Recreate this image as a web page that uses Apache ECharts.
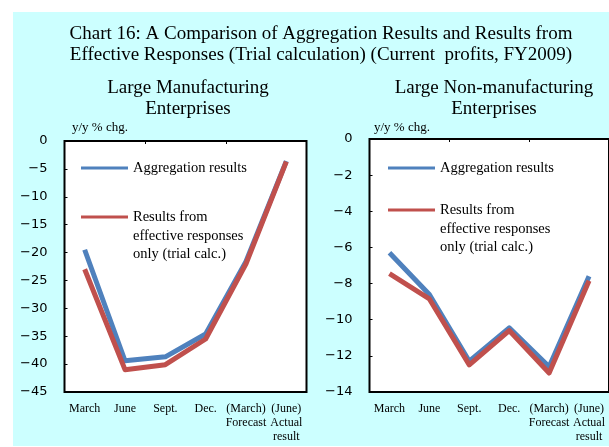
<!DOCTYPE html>
<html>
<head>
<meta charset="utf-8">
<script src="https://cdn.jsdelivr.net/npm/echarts@6/dist/echarts.min.js"></script>
<style>
  html, body { margin: 0; padding: 0; background: #fff; }
  #chart { width: 609px; height: 447px; }
</style>
</head>
<body>
<div id="chart"></div>
<script>
// categories
var months = ["March", "June", "Sept.", "Dec.", "(March)\nForecast", "(June)\nActual\nresult"];
// large manufacturing
var mfgAgg = [-19.5, -39.4, -38.7, -34.6, -21.6, -3.6];
var mfgEff = [-23.0, -41.0, -40.1, -35.5, -22.0, -3.7];
// large non-manufacturing
var nonAgg = [-6.3, -8.6, -12.3, -10.45, -12.6, -7.6];
var nonEff = [-7.45, -8.85, -12.5, -10.6, -12.95, -7.85];

var blue = "#4F81BD";
var red = "#C0504D";
var serif = "Liberation Serif";

var chart = echarts.init(document.getElementById("chart"));

function minus(v) {
  return String(v).replace("-", "\u2212");
}

function bottomAxis(g) {
  return {
    type: "category",
    gridIndex: g,
    data: months,
    position: "bottom",
    boundaryGap: true,
    axisLine: { show: false },
    axisTick: { show: false },
    axisLabel: {
      interval: 0,
      margin: 10,
      color: "#000",
      fontFamily: serif,
      fontSize: 12,
      lineHeight: 14,
      verticalAlign: "top",
    },
  };
}
function topAxis(g) {
  return {
    type: "category",
    gridIndex: g,
    data: months,
    position: "top",
    boundaryGap: true,
    axisLine: { show: false },
    axisTick: { show: true, inside: true, length: 3, lineStyle: { color: "#000", width: 1 } },
    axisLabel: { show: false },
  };
}
function valueAxis(g, min, step) {
  return {
    type: "value",
    gridIndex: g,
    min: min,
    max: 0,
    interval: step,
    axisLine: { show: false },
    axisTick: { show: true, inside: true, length: 3, lineStyle: { color: "#000", width: 1 } },
    splitLine: { show: false },
    axisLabel: {
      margin: 17,
      color: "#000",
      fontFamily: "DejaVu Sans",
      fontSize: 13,
      formatter: minus,
    },
  };
}
function line(name, x, y, data, color) {
  return {
    name: name,
    type: "line",
    xAxisIndex: x,
    yAxisIndex: y,
    data: data,
    symbol: "none",
    lineStyle: { color: color, width: 5, join: "round" },
    silent: true,
  };
}

// legend drawn inside each plot
function legend(x, y1, y2) {
  var t = { fontFamily: serif, fontSize: 14.5, fill: "#000" };
  return [
    { type: "line", shape: { x1: x, y1: y1, x2: x + 47, y2: y1 }, style: { stroke: blue, lineWidth: 3 }, z: 10 },
    { type: "text", x: x + 52, y: y1, style: Object.assign({ text: "Aggregation results", verticalAlign: "middle" }, t), z: 10 },
    { type: "line", shape: { x1: x, y1: y2, x2: x + 47, y2: y2 }, style: { stroke: red, lineWidth: 3 }, z: 10 },
    {
      type: "text", x: x + 52, y: y2 - 9,
      style: Object.assign({ text: "Results from\neffective responses\nonly (trial calc.)", lineHeight: 18.5, verticalAlign: "top" }, t),
      z: 10,
    },
  ];
}

var titleStyle = { fontFamily: serif, fontSize: 19, fill: "#000", align: "center", verticalAlign: "middle", lineHeight: 21 };

var option = {
  backgroundColor: "#fff",
  animation: false,
  graphic: [
    { type: "rect", shape: { x: 13, y: 12, width: 600, height: 434 }, style: { fill: "#CCFFFF" }, z: -10 },
    { type: "text", x: 321, y: 45, style: Object.assign({ text: "Chart 16: A Comparison of Aggregation Results and Results from\nEffective Responses (Trial calculation) (Current  profits, FY2009)" }, titleStyle) },
    { type: "text", x: 188, y: 99, style: Object.assign({ text: "Large Manufacturing\nEnterprises", lineHeight: 19.5 }, titleStyle) },
    { type: "text", x: 494, y: 99, style: Object.assign({ text: "Large Non-manufacturing\nEnterprises", lineHeight: 19.5 }, titleStyle) },
    { type: "text", x: 72, y: 128, style: { text: "y/y % chg.", fontFamily: serif, fontSize: 13, fill: "#000", verticalAlign: "middle" } },
    { type: "text", x: 374, y: 128, style: { text: "y/y % chg.", fontFamily: serif, fontSize: 13, fill: "#000", verticalAlign: "middle" } },
  ].concat(legend(81, 168, 217)).concat(legend(388, 168, 210)),
  grid: [
    { left: 64.5, top: 141, width: 242, height: 251, show: true, backgroundColor: "#fff", borderColor: "#000", borderWidth: 2 },
    { left: 369.5, top: 139, width: 244, height: 253, show: true, backgroundColor: "#fff", borderColor: "#000", borderWidth: 2 },
  ],
  xAxis: [bottomAxis(0), topAxis(0), bottomAxis(1), topAxis(1)],
  yAxis: [valueAxis(0, -45, 5), valueAxis(1, -14, 2)],
  series: [
    line("Aggregation results", 0, 0, mfgAgg, blue),
    line("Results from effective responses only (trial calc.)", 0, 0, mfgEff, red),
    line("Aggregation results", 2, 1, nonAgg, blue),
    line("Results from effective responses only (trial calc.)", 2, 1, nonEff, red),
  ],
};

chart.setOption(option);
window.addEventListener("resize", function () {
  chart.resize();
});
</script>
</body>
</html>
